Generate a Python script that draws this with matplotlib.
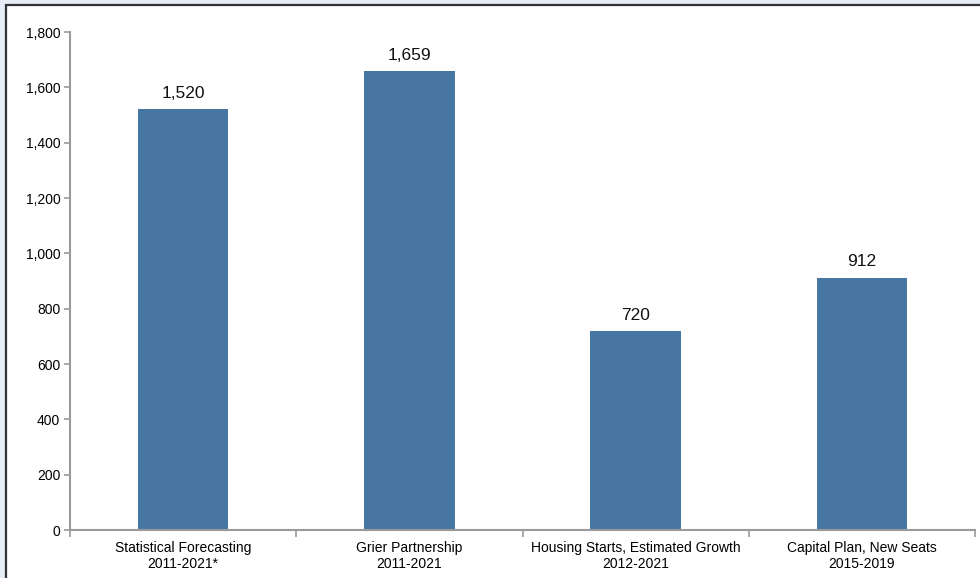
import matplotlib
matplotlib.use("Agg")
import matplotlib.pyplot as plt
from matplotlib.patches import Rectangle
from matplotlib.ticker import FuncFormatter, MultipleLocator

categories = [
    "Statistical Forecasting\n2011-2021*",
    "Grier Partnership\n2011-2021",
    "Housing Starts, Estimated Growth\n2012-2021",
    "Capital Plan, New Seats\n2015-2019",
]
values = [1520, 1659, 720, 912]

plt.rcParams["font.family"] = ["Liberation Sans", "DejaVu Sans"]

W, H = 980, 578
fig = plt.figure(figsize=(W / 100, H / 100), dpi=100, facecolor="#e7edf6")

# white panel with dark frame along the top and left edges
panel = Rectangle((5.5 / W, -0.1), 1.2, 1 - 5.5 / H + 0.1,
                  transform=fig.transFigure, facecolor="white",
                  edgecolor="#2f3336", linewidth=1.6, zorder=-10)
fig.patches.append(panel)

ax = fig.add_axes([70 / W, 1 - 530 / H, (975 - 70) / W, (530 - 32) / H])
ax.set_facecolor("none")
ax.set_zorder(5)

x = list(range(len(values)))
bars = ax.bar(x, values, width=0.4, color="#4876a2", zorder=2)

for xi, v in zip(x, values):
    ax.text(xi, v + 30, f"{v:,}", ha="center", va="bottom", fontsize=12.5,
            color="#111111")

ax.set_xlim(-0.5, len(values) - 0.5)
ax.set_ylim(0, 1800)
ax.yaxis.set_major_locator(MultipleLocator(200))
ax.yaxis.set_major_formatter(FuncFormatter(lambda v, p: f"{int(v):,}"))

ax.set_xticks(x)
ax.set_xticklabels(categories, fontsize=10)
ax.set_xticks([i - 0.5 for i in range(len(values) + 1)], minor=True)
ax.tick_params(axis="x", which="major", length=0, pad=8)
ax.tick_params(axis="x", which="minor", length=5, color="#999999", width=1.2)
ax.tick_params(axis="y", length=4, color="#999999", width=1.2, labelsize=10,
               pad=3)

for side in ("top", "right"):
    ax.spines[side].set_visible(False)
for side in ("left", "bottom"):
    ax.spines[side].set_color("#9a9a9a")
    ax.spines[side].set_linewidth(1.5)

fig.savefig("out.png", dpi=100, facecolor=fig.get_facecolor())
